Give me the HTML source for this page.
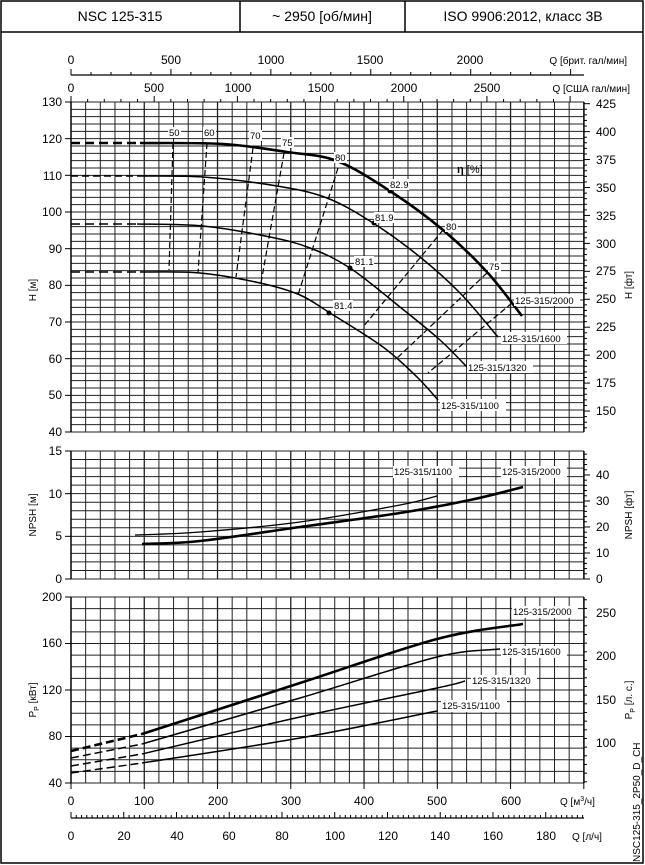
<!DOCTYPE html>
<html><head><meta charset="utf-8"><style>
body{margin:0;background:#fff}
svg{display:block;font-family:"Liberation Sans",Arial,sans-serif}
.t{font-size:12px;fill:#000}
.s{font-size:10px;fill:#000}
.l{font-size:9.5px;fill:#000}
</style></head><body>
<svg id="c" width="645" height="865" viewBox="0 0 645 865" xmlns="http://www.w3.org/2000/svg">
<rect x="1" y="1" width="642" height="862" fill="#fff" stroke="#000" stroke-width="1.5"/>
<line x1="1" y1="32" x2="643" y2="32" stroke="#000" stroke-width="1.5"/>
<line x1="240" y1="1" x2="240" y2="32" stroke="#000" stroke-width="1.5"/>
<line x1="405" y1="1" x2="405" y2="32" stroke="#000" stroke-width="1.5"/>
<text x="120" y="21" text-anchor="middle" style="font-size:14px">NSC 125-315</text>
<text x="322" y="21" text-anchor="middle" style="font-size:14px">~ 2950 [об/мин]</text>
<text x="523" y="21" text-anchor="middle" style="font-size:14px">ISO 9906:2012, класс 3В</text>
<g id="g"></g>
<g class="t" text-anchor="middle">
<text x="71" y="64">0</text><text x="171" y="64">500</text><text x="271" y="64">1000</text><text x="370" y="64">1500</text><text x="470" y="64">2000</text>
<text x="71" y="92">0</text><text x="154" y="92">500</text><text x="238" y="92">1000</text><text x="321" y="92">1500</text><text x="404" y="92">2000</text><text x="487" y="92">2500</text>
</g>
<text class="s" x="627" y="64" text-anchor="end">Q [брит. гал/мин]</text>
<text class="s" x="630" y="92" text-anchor="end">Q [США гал/мин]</text>
<g class="t" text-anchor="end">
<text x="62" y="106">130</text><text x="62" y="143">120</text><text x="62" y="180">110</text><text x="62" y="216">100</text><text x="62" y="253">90</text><text x="62" y="289">80</text><text x="62" y="326">70</text><text x="62" y="363">60</text><text x="62" y="399">50</text><text x="62" y="436">40</text>
</g>
<g class="t">
<text x="596" y="108">425</text><text x="596" y="136">400</text><text x="596" y="164">375</text><text x="596" y="192">350</text><text x="596" y="220">325</text><text x="596" y="248">300</text><text x="596" y="275">275</text><text x="596" y="303">250</text><text x="596" y="331">225</text><text x="596" y="359">200</text><text x="596" y="387">175</text><text x="596" y="415">150</text>
</g>
<text class="s" transform="translate(36,290) rotate(-90)" text-anchor="middle">H [м]</text>
<text class="s" transform="translate(632,285) rotate(-90)" text-anchor="middle">H [фт]</text>
<g class="t" text-anchor="end">
<text x="62" y="455">15</text><text x="62" y="498">10</text><text x="62" y="540">5</text><text x="62" y="583">0</text>
</g>
<g class="t">
<text x="596" y="479">40</text><text x="596" y="505">30</text><text x="596" y="531">20</text><text x="596" y="557">10</text><text x="596" y="583">0</text>
</g>
<text class="s" transform="translate(36,515) rotate(-90)" text-anchor="middle">NPSH [м]</text>
<text class="s" transform="translate(632,515) rotate(-90)" text-anchor="middle">NPSH [фт]</text>
<g class="t" text-anchor="end">
<text x="62" y="601">200</text><text x="62" y="647">160</text><text x="62" y="694">120</text><text x="62" y="740">80</text><text x="62" y="787">40</text>
</g>
<g class="t">
<text x="596" y="617">250</text><text x="596" y="660">200</text><text x="596" y="704">150</text><text x="596" y="747">100</text>
</g>
<text class="s" transform="translate(36,700) rotate(-90)" text-anchor="middle">P<tspan font-size="7" dy="3">P</tspan><tspan dy="-3"> [кВт]</tspan></text>
<text class="s" transform="translate(632,700) rotate(-90)" text-anchor="middle">P<tspan font-size="7" dy="3">P</tspan><tspan dy="-3"> [л. с.]</tspan></text>
<text class="s" transform="translate(640,862) rotate(-90)">NSC125-315_2P50_D_CH</text>
<g class="t" text-anchor="middle">
<text x="71" y="805">0</text><text x="144" y="805">100</text><text x="218" y="805">200</text><text x="291" y="805">300</text><text x="364" y="805">400</text><text x="437" y="805">500</text><text x="511" y="805">600</text>
<text x="71" y="840">0</text><text x="124" y="840">20</text><text x="177" y="840">40</text><text x="229" y="840">60</text><text x="282" y="840">80</text><text x="335" y="840">100</text><text x="388" y="840">120</text><text x="440" y="840">140</text><text x="493" y="840">160</text><text x="546" y="840">180</text>
</g>
<text class="s" x="560" y="805">Q [м<tspan font-size="7" dy="-4">3</tspan><tspan dy="4">/ч]</tspan></text>
<text class="s" x="572" y="840">Q [л/ч]</text>
<g class="l">
<rect x="168" y="127" width="13" height="11" fill="#fff"/><text x="169" y="136">50</text>
<rect x="203" y="127" width="13" height="11" fill="#fff"/><text x="204" y="136">60</text>
<rect x="249" y="130" width="13" height="11" fill="#fff"/><text x="250" y="139">70</text>
<rect x="281" y="137" width="13" height="11" fill="#fff"/><text x="282" y="146">75</text>
<rect x="334" y="152" width="13" height="11" fill="#fff"/><text x="335" y="161">80</text>
<rect x="389" y="179" width="20" height="11" fill="#fff"/><text x="390" y="188">82.9</text>
<rect x="374" y="212" width="20" height="11" fill="#fff"/><text x="375" y="221">81.9</text>
<rect x="354" y="256" width="20" height="11" fill="#fff"/><text x="355" y="265">81.1</text>
<rect x="333" y="300" width="20" height="11" fill="#fff"/><text x="334" y="309">81.4</text>
<rect x="445" y="221" width="13" height="11" fill="#fff"/><text x="446" y="230">80</text>
<rect x="488" y="261" width="13" height="11" fill="#fff"/><text x="489" y="270">75</text>
<text x="457" y="173" style="font-size:11px;font-weight:bold">η <tspan font-weight="normal">[%]</tspan></text>
<rect x="514" y="294" width="66" height="12" fill="#fff"/><text x="515" y="304">125-315/2000</text>
<rect x="501" y="332" width="66" height="12" fill="#fff"/><text x="502" y="342">125-315/1600</text>
<rect x="467" y="361" width="66" height="12" fill="#fff"/><text x="468" y="371">125-315/1320</text>
<rect x="440" y="399" width="66" height="12" fill="#fff"/><text x="441" y="409">125-315/1100</text>
<rect x="393" y="466" width="66" height="12" fill="#fff"/><text x="394" y="475">125-315/1100</text>
<rect x="501" y="466" width="66" height="12" fill="#fff"/><text x="502" y="475">125-315/2000</text>
<rect x="512" y="606" width="66" height="12" fill="#fff"/><text x="513" y="615">125-315/2000</text>
<rect x="501" y="646" width="66" height="12" fill="#fff"/><text x="502" y="655">125-315/1600</text>
<rect x="471" y="675" width="66" height="12" fill="#fff"/><text x="472" y="684">125-315/1320</text>
<rect x="441" y="700" width="66" height="12" fill="#fff"/><text x="442" y="709">125-315/1100</text>
</g>
</svg>
<script>
var g=document.getElementById('g'),NS='http://www.w3.org/2000/svg';
function el(t,a){var e=document.createElementNS(NS,t);for(var k in a)e.setAttribute(k,a[k]);g.appendChild(e);return e;}
function L(x1,y1,x2,y2,w,c){el('line',{x1:x1,y1:y1,x2:x2,y2:y2,stroke:c||'#000','stroke-width':w||1});}
var X0=71,XR=584,k=0.7326;
function X(q){return X0+q*k;}
function grid(yt,yb,n){
 for(var i=0;i<=n;i++){var y=yt+(yb-yt)*i/n;L(X0,y,XR,y,1,'#222');}
 for(var q=0;q<=700;q+=20){var x=X(q);L(x,yt,x,yb,(q%100==0)?1.3:1,'#222');}
 L(X0,yt,X0,yb,1.3);L(XR,yt,XR,yb,1.3);
}
grid(102,432,45);grid(451,579,15);grid(597,783,16);
[[102,432,9],[451,579,3],[597,783,4]].forEach(function(a){for(var i=0;i<=a[2];i++){var y=a[0]+(a[1]-a[0])*i/a[2];L(65,y,X0,y,1);}});
function YH(h){return 432-(h-40)*3.6667;}
for(var f=135;f<=425;f+=5){var y=YH(f*0.3048);if(y<102)continue;L(XR,y,XR+(f%25==0?6:3),y,1);}
function YN(n){return 579-n*8.533;}
for(var f=0;f<=49;f+=2){var y=YN(f*0.3048);L(XR,y,XR+(f%10==0?6:3),y,1);}
function YP(p){return 783-(p-40)*1.1625;}
for(var f=55;f<=265;f+=10){var y=YP(f*0.7457);if(y<597||y>783)continue;L(XR,y,XR+(f%50==0?6:3),y,1);}
L(X0,75,XR,75,1.2);
for(var b=0;b<=2550;b+=100){var x=X(b*0.2728);if(x>XR)break;L(x,75,x,b%500==0?69:72,1);}
for(var u=0;u<=3050;u+=100){var x=X(u*0.2271);if(x>XR)break;L(x,102,x,u%500==0?96:99,1);}
for(var q=0;q<=700;q+=100)L(X(q),783,X(q),789,1);
L(X0,818,XR,818,1.2);
for(var s=0;s<=194;s+=2){var x=X(s*3.6);if(x>XR)break;L(x,818,x,s%20==0?812:815,1);}
function smooth(p){if(p.length<3)return 'M'+p[0][0]+','+p[0][1]+' L'+p[1][0]+','+p[1][1];
 var d='M'+p[0][0]+','+p[0][1];
 for(var i=0;i<p.length-1;i++){var p0=p[i-1]||p[i],p1=p[i],p2=p[i+1],p3=p[i+2]||p2;
  var c1x=p1[0]+(p2[0]-p0[0])/6,c1y=p1[1]+(p2[1]-p0[1])/6,c2x=p2[0]-(p3[0]-p1[0])/6,c2y=p2[1]-(p3[1]-p1[1])/6;
  d+=' C'+c1x+','+c1y+' '+c2x+','+c2y+' '+p2[0]+','+p2[1];}
 return d;}
function C(pts,w,d){el('path',{d:smooth(pts),fill:'none',stroke:'#000','stroke-width':w,'stroke-dasharray':d||'none','stroke-linejoin':'round'});}
C([[71,143],[140,143]],2.6,'9,5');
C([[140,143],[223,144],[287,152],[337,161],[390,191],[443,230],[487,272],[522,316]],2.6);
C([[71,176],[137,176]],1.5,'7,4');
C([[137,176],[203,177],[277,186],[327,198],[373,223],[420,257],[460,293],[498,337]],1.5);
C([[71,224],[137,224]],1.5,'9,5');
C([[137,224],[203,226],[270,237],[310,248],[350,268],[400,307],[440,340],[467,367]],1.5);
C([[71,272],[140,272]],1.5,'9,5');
C([[140,272],[200,273],[260,283],[300,295],[330,313],[383,347],[417,377],[438,400]],1.5);
[[173,143,169,270],[207,143,198,273],[253,148,236,277],[284,153,261,283],[338,168,298,295],[443,230,363,327],[487,273,395,360],[512,303,428,373]].forEach(function(a){C([[a[0],a[1]],[a[2],a[3]]],1.2,'6,3');});
[[390,191],[374,223],[350,268],[329,313]].forEach(function(p){el('circle',{cx:p[0],cy:p[1],r:2.5,fill:'#000'});});
C([[135,535],[200,532],[300,522],[400,505],[437,496]],1.3);
C([[142,544],[200,541],[300,527],[400,513],[470,500],[523,487]],2.6);
C([[71,751],[142,734]],2.6,'8,4');
C([[142,734],[300,683],[437,639],[523,624]],2.6);
C([[71,758],[142,744]],1.5,'8,4');
C([[142,744],[300,698],[437,657],[500,649]],1.5);
C([[71,766],[142,754]],1.5,'8,4');
C([[142,754],[300,717],[437,688],[465,681]],1.5);
C([[71,773],[142,763]],1.5,'8,4');
C([[142,763],[300,738],[437,711]],1.5);
var svg=document.getElementById('c');svg.querySelectorAll('g.l').forEach(function(n){svg.appendChild(n);});
</script>
</body></html>
